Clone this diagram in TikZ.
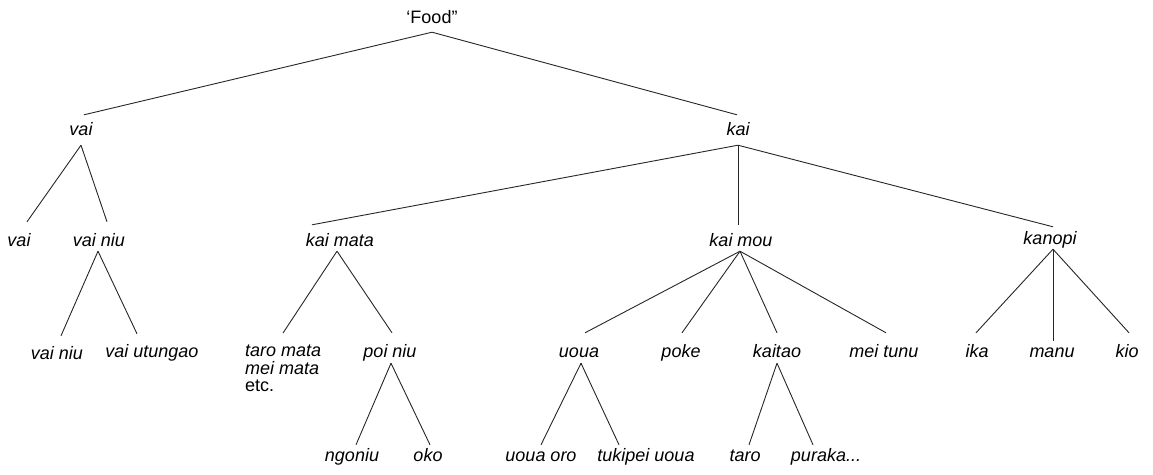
\documentclass[tikz,border=0pt]{standalone}
\usepackage{fontspec}
\setmainfont{Liberation Sans}
\begin{document}
\begin{tikzpicture}[x=1pt,y=-1pt,
  txt/.style={inner xsep=0pt,inner ysep=4pt,font=\fontsize{18}{15.5}\selectfont\itshape},
  lab/.style={txt,anchor=base,text height=12.5pt,text depth=0pt},
  lnk/.style={draw=black!85,line width=0.9pt}]
\useasboundingbox (0,0) rectangle (1153,474);
\newcommand\br[6]{\draw[lnk] ([shift={(#2,#3)}]#1.south) -- ([shift={(#5,#6)}]#4.north);}
% nodes
\node[lab,font=\fontsize{18}{19}\selectfont] (food) at (432,23) {‘Food”};
\node[lab] (vaiA) at (81,135) {vai};
\node[lab] (kaiA) at (738,135) {kai};
\node[lab] (vaiB) at (19,246) {vai};
\node[lab] (vainiuB) at (99,246) {vai niu};
\node[lab] (kaimata) at (340,246) {kai mata};
\node[lab] (kaimou) at (741,246) {kai mou};
\node[lab] (kanopi) at (1050,244) {kanopi};
\node[lab] (vainiuC) at (57,359) {vai niu};
\node[lab] (vaiutungao) at (152,357) {vai utungao};
\node[txt,anchor=north west,align=left,font=\fontsize{18}{17.5}\selectfont\itshape] (taromata) at (245,341) {taro mata\\mei mata\\{\upshape etc.}};
\node[lab] (poiniu) at (390,357) {poi niu};
\node[lab] (uoua) at (579,357) {uoua};
\node[lab] (poke) at (681,357) {poke};
\node[lab] (kaitao) at (777,357) {kaitao};
\node[lab] (meitunu) at (884,357) {mei tunu};
\node[lab] (ika) at (977,357) {ika};
\node[lab] (manu) at (1052,357) {manu};
\node[lab] (kio) at (1127,357) {kio};
\node[lab] (ngoniu) at (352,461) {ngoniu};
\node[lab] (oko) at (428,461) {oko};
\node[lab] (uouaoro) at (541,461) {uoua oro};
\node[lab] (tukipei) at (646,461) {tukipei uoua};
\node[lab] (taro) at (745,461) {taro};
\node[lab] (puraka) at (826,461) {puraka...};
% connectors
\br{food}{0}{5}{vaiA}{3}{-3.5}
\br{food}{0}{5}{kaiA}{-1}{-3.5}
\br{vaiA}{0}{6}{vaiB}{8}{-7.5}
\br{vaiA}{0}{6}{vainiuB}{8}{-7.5}
\br{kaiA}{0}{6}{kaimata}{-28}{-4.5}
\br{kaiA}{0}{6}{kaimou}{-3}{-4.5}
\br{kaiA}{0}{6}{kanopi}{3}{-0.5}
\br{vainiuB}{-1}{1}{vainiuC}{4}{-6.5}
\br{vainiuB}{-1}{1}{vaiutungao}{-15}{-6.5}
\draw[lnk] ([shift={(-3,1)}]kaimata.south) -- ([shift={(38,-8)}]taromata.north west);
\br{kaimata}{-3}{1}{poiniu}{2}{-7.5}
\br{kaimou}{-1}{1}{uoua}{6}{-7.5}
\br{kaimou}{-1}{1}{poke}{1}{-7.5}
\br{kaimou}{-1}{1}{kaitao}{0}{-7.5}
\br{kaimou}{-1}{1}{meitunu}{2}{-7.5}
\br{kanopi}{3}{1}{ika}{-1}{-7.5}
\br{kanopi}{3}{1}{manu}{1}{0.5}
\br{kanopi}{3}{1}{kio}{2}{-7.5}
\br{poiniu}{1}{2}{ngoniu}{4}{0.5}
\br{poiniu}{1}{2}{oko}{2}{0.5}
\br{uoua}{2}{2}{uouaoro}{0}{0.5}
\br{uoua}{2}{2}{tukipei}{-27}{0.5}
\br{kaitao}{0}{2}{taro}{4}{0.5}
\br{kaitao}{0}{2}{puraka}{-13}{0.5}
\end{tikzpicture}
\end{document}
